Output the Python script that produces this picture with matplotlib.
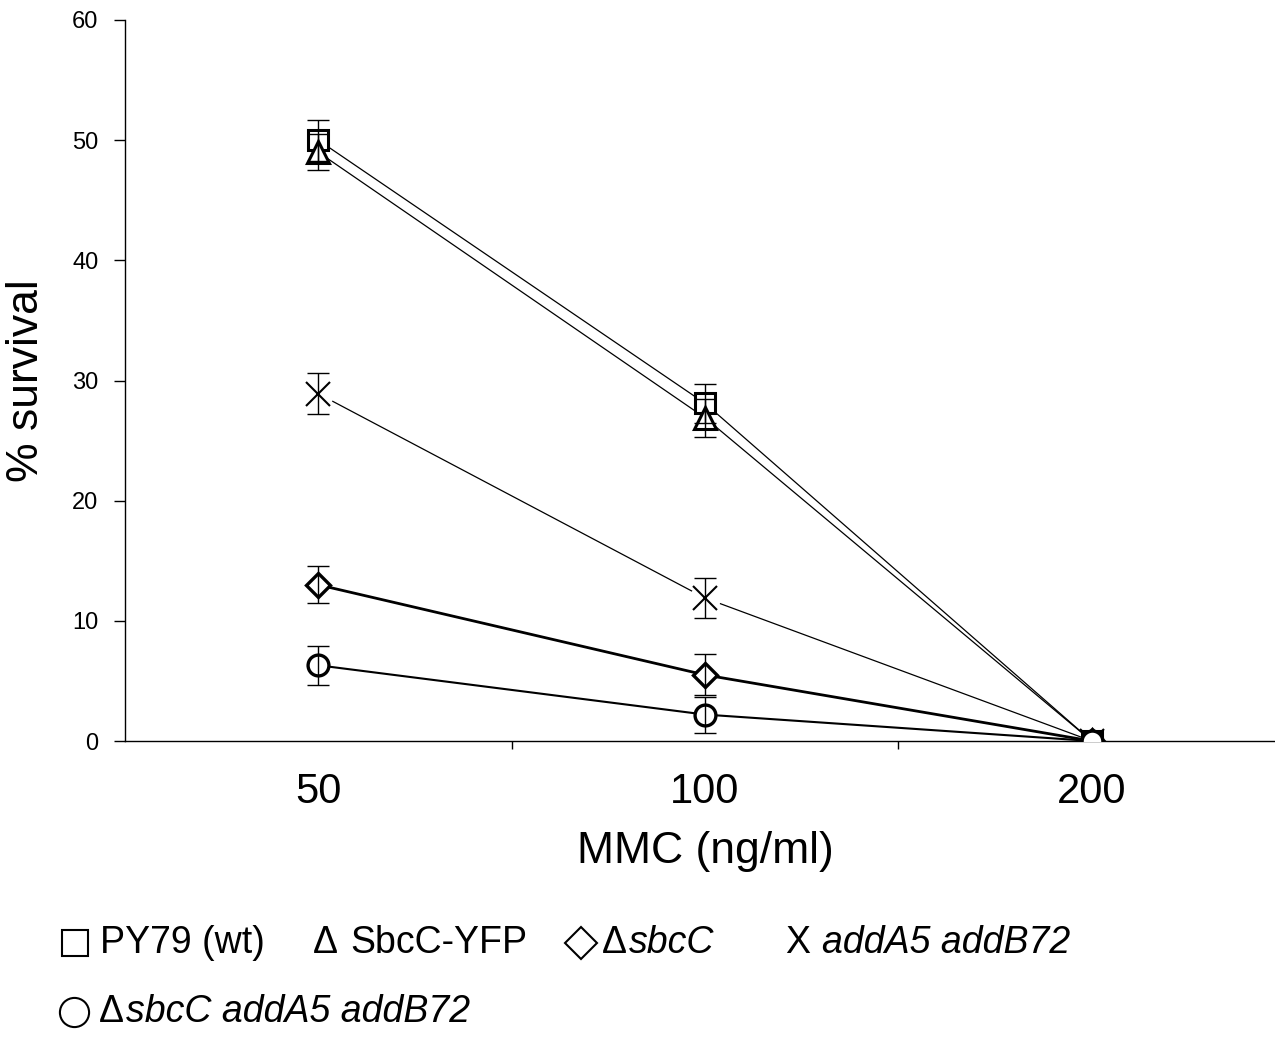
import matplotlib
matplotlib.use("Agg")
import matplotlib.pyplot as plt
from matplotlib.lines import Line2D
import numpy as np

plt.rcParams['font.family'] = ['Liberation Sans', 'DejaVu Sans']

doses = ["50", "100", "200"]
py79 = [50.0, 28.1, 0.0]
py79_err = [1.7, 1.6, 0.0]
sbcc_yfp = [49.0, 26.9, 0.0]
sbcc_yfp_err = [1.5, 1.6, 0.0]
d_sbcc = [13.0, 5.5, 0.0]
d_sbcc_err = [1.55, 1.7, 0.0]
add = [28.9, 11.9, 0.0]
add_err = [1.7, 1.7, 0.0]
d_sbcc_add = [6.3, 2.2, 0.0]
d_sbcc_add_err = [1.6, 1.5, 0.0]

fig = plt.figure(figsize=(12.75, 10.38), dpi=100)
ax = fig.add_axes([125/1275, 1-741/1038, 1160/1275, 721/1038])
x = np.arange(len(doses))

def err(vals, errs):
    v = np.array(vals[:2]); e = np.array(errs[:2])
    ax.errorbar(x[:2], v, yerr=e, fmt='none', ecolor='black', elinewidth=1.0,
                capsize=8, capthick=1.0, zorder=6)

# lines
ax.plot(x, py79, color='black', lw=0.9, zorder=2)
ax.plot(x, sbcc_yfp, color='black', lw=0.9, zorder=2)
ax.plot(x, add, color='black', lw=0.9, zorder=2)
ax.plot(x, d_sbcc, color='black', lw=2.0, zorder=2)
ax.plot(x, d_sbcc_add, color='black', lw=1.5, zorder=2)

# markers
ax.plot(x, py79, ls='none', marker='s', ms=14, mfc='white', mec='black', mew=2.2, zorder=3)
ax.plot(x, sbcc_yfp, ls='none', marker='^', ms=16, mfc='white', mec='black', mew=2.2, zorder=4)
ax.plot(x[:2], add[:2], ls='none', marker='o', ms=22, mfc='white', mec='none', zorder=3)
ax.plot(x, add, ls='none', marker='x', ms=17, mec='black', mew=1.5, zorder=4)
ax.plot(x, d_sbcc, ls='none', marker='D', ms=12, mfc='white', mec='black', mew=2.4, zorder=4)
ax.plot(x, d_sbcc_add, ls='none', marker='o', ms=15, mfc='white', mec='black', mew=2.4, zorder=5)

err(py79, py79_err)
err(sbcc_yfp, sbcc_yfp_err)
err(add, add_err)
err(d_sbcc, d_sbcc_err)
err(d_sbcc_add, d_sbcc_add_err)

ax.set_xlim(-0.5, 2.5)
ax.set_ylim(0, 60)
ax.set_yticks(np.arange(0, 61, 10))
ax.tick_params(axis='y', labelsize=17, length=8, width=1, direction='out', pad=11)
ax.set_xticks([0.5, 1.5, 2.5])
ax.set_xticks(x, minor=True)
ax.set_xticklabels(['', '', ''])
ax.set_xticklabels(doses, minor=True)
ax.tick_params(axis='x', which='major', length=6, width=1, direction='out')
ax.tick_params(axis='x', which='minor', length=0, labelsize=30, pad=22)
for s in ['top', 'right']:
    ax.spines[s].set_visible(False)
for s in ['left', 'bottom']:
    ax.spines[s].set_linewidth(1.0)
ax.set_ylabel('% survival', fontsize=32, labelpad=18)
ax.set_xlabel('MMC (ng/ml)', fontsize=32, labelpad=14)

# custom legend
def fx(px): return px/1275
def fy(py): return 1-py/1038
y1, y2 = 943, 1012
fs = 27
fig.add_artist(Line2D([fx(75)], [fy(y1)], marker='s', ms=19, mfc='white', mec='black', mew=1.5, transform=fig.transFigure))
fig.text(fx(100), fy(y1), 'PY79 (wt)', fontsize=fs, va='center', ha='left')
fig.text(fx(313), fy(y1), 'Δ', fontsize=fs, va='center', ha='left')
fig.text(fx(350), fy(y1), 'SbcC-YFP', fontsize=fs, va='center', ha='left')
fig.add_artist(Line2D([fx(581)], [fy(y1)], marker='D', ms=16, mfc='white', mec='black', mew=1.5, transform=fig.transFigure))
fig.text(fx(602), fy(y1), 'Δ', fontsize=fs, va='center', ha='left')
fig.text(fx(629), fy(y1), 'sbcC', fontsize=fs, va='center', ha='left', style='italic')
fig.text(fx(785), fy(y1), 'X', fontsize=fs, va='center', ha='left')
fig.text(fx(822), fy(y1), 'addA5 addB72', fontsize=fs, va='center', ha='left', style='italic')
fig.add_artist(Line2D([fx(74)], [fy(y2)], marker='o', ms=21, mfc='white', mec='black', mew=1.5, transform=fig.transFigure))
fig.text(fx(99), fy(y2), 'Δ', fontsize=fs, va='center', ha='left')
fig.text(fx(126), fy(y2), 'sbcC addA5 addB72', fontsize=fs, va='center', ha='left', style='italic')

fig.savefig('out.png', dpi=100, facecolor='white')
